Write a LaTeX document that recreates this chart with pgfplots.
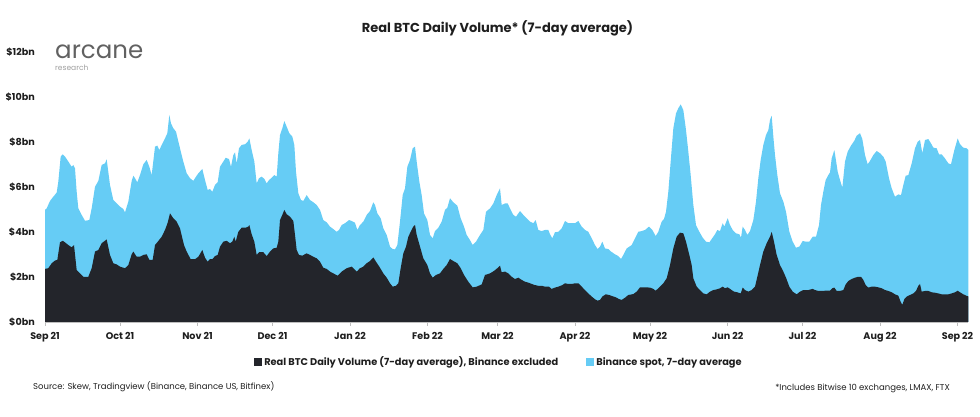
\documentclass[border=0pt]{standalone}
\usepackage{pgfplots}
\pgfplotsset{compat=1.18}
\usepackage{fontspec}
\setmainfont{Poppins}
\definecolor{btcdark}{RGB}{35,37,43}
\definecolor{bnblue}{RGB}{102,204,245}
\definecolor{axisgray}{RGB}{190,190,190}
\definecolor{txt}{RGB}{30,30,30}
\begin{document}
\begin{tikzpicture}[x=1pt,y=1pt]
\path[use as bounding box] (0,0) rectangle (980,417);
\begin{axis}[
  at={(45pt,95pt)}, anchor=south west,
  scale only axis, width=923.33pt, height=270pt,
  xmin=0, xmax=369.33, ymin=0, ymax=12,
  axis lines*=left,
  y axis line style={draw=none},
  x axis line style={axisgray, line width=0.8pt},
  ytick={0,2,4,6,8,10,12},
  yticklabels={\$0bn,\$2bn,\$4bn,\$6bn,\$8bn,\$10bn,\$12bn},
  ytick style={draw=none},
  xtick={0,30,61,91,122,153,181,212,242,273,303,334,365},
  xticklabels={Sep 21,Oct 21,Nov 21,Dec 21,Jan 22,Feb 22,Mar 22,Apr 22,May 22,Jun 22,Jul 22,Aug 22,Sep 22},
  xtick style={axisgray, line width=0.8pt},
  tick align=outside, major tick length=4pt,
  ticklabel style={font=\fontsize{9.6}{11}\selectfont\bfseries, text=txt},
  yticklabel style={anchor=east, inner sep=0pt, xshift=-6pt},
  xticklabel style={anchor=north, inner sep=0pt, yshift=-6.5pt},
  legend style={at={(0.4917,-0.148)}, anchor=center, draw=none, fill=none,
    font=\fontsize{9.8}{11}\selectfont\bfseries, text=txt,
    /tikz/every even column/.append style={column sep=26pt}},
  legend columns=2,
  legend cell align=left,
  legend image code/.code={\fill[#1] (0pt,-4pt) rectangle (8pt,4pt);},
]
\addlegendimage{fill=btcdark, draw=none}
\addlegendentry{Real BTC Daily Volume (7-day average), Binance excluded}
\addlegendimage{fill=bnblue, draw=none}
\addlegendentry{Binance spot, 7-day average}

% top edge of the stack (Binance spot on top of real volume)
\addplot[forget plot, fill=bnblue, draw=none] coordinates {
(0,4.98)(0.67,5.05)(2,5.38)(3.33,5.57)(4.67,5.75)(5.33,6.24)(6.27,7.35)(7.07,7.45)(8,7.35)(9.33,7.13)(10.67,6.90)(11.33,6.98)(12,6.83)(12.67,5.79)(13.33,5.05)(14.67,4.76)(16,4.50)(17.73,4.53)(18.67,5.05)(20,6.01)(21.33,6.27)(22.67,6.98)(24,7.05)(24.67,7.23)(26,6.09)(27.33,5.42)(28.67,5.27)(30,5.13)(31.33,5.02)(32,4.87)(33.33,5.35)(34.67,6.27)(35.33,6.50)(36,6.39)(36.93,6.21)(38,6.53)(39.33,7.01)(40.67,7.20)(41.73,6.90)(42.67,6.53)(44,7.79)(44.93,7.84)(45.73,7.64)(46.67,7.87)(48,8.16)(48.93,8.39)(49.73,9.20)(50.4,8.83)(51.33,8.61)(52.4,8.46)(54,7.72)(55.33,7.13)(56.67,6.61)(58,6.39)(59.33,6.27)
(60,6.39)(61.33,6.61)(62.93,6.80)(64,6.31)(65.07,5.87)(66,5.91)(66.93,5.79)(68,6.09)(69.07,6.21)(70,6.90)(71.33,7.13)(72.27,7.30)(73.6,7.24)(74.4,6.90)(75.33,7.42)(76,7.54)(76.67,7.05)(77.6,7.72)(78.67,7.87)(80,7.90)(81.07,8.01)(81.73,8.16)(82.67,7.64)(83.73,7.13)(84.67,6.16)(85.6,6.39)(86.67,6.46)(87.73,6.36)(88.67,6.16)(89.6,6.31)(90.67,6.41)(91.73,6.53)(92.67,6.46)(93.33,7.50)(94,8.31)(94.93,8.61)(95.73,8.93)(96.67,8.68)(97.73,8.39)(98.93,8.24)(99.73,7.87)(100.4,6.68)(101.33,5.72)(102.4,5.42)(103.33,5.38)(104.67,5.64)(106,5.42)(107.33,5.32)(108.67,5.20)(110,4.98)(111.33,4.53)(112.67,4.43)(114,4.24)(115.33,4.13)(116.67,4.01)(117.6,4.09)(118.67,4.31)(120,4.39)(121.6,4.53)(122.67,4.49)(124,4.41)
(124.93,4.09)(126,4.31)(127.33,4.46)(128.67,4.76)(130,4.93)(131.33,5.32)(132,5.20)(132.93,4.83)(134.27,4.61)(135.33,4.16)(136.67,3.87)(138,3.35)(139.07,3.24)(140,3.23)(140.93,3.42)(142,4.46)(143.07,5.64)(144,5.94)(144.93,6.90)(146,7.20)(147.07,7.72)(148,7.79)(148.67,7.13)(149.73,6.24)(150.67,5.64)(151.6,4.83)(152.93,4.53)(154,3.87)(155.07,3.72)(156,4.04)(157.33,4.19)(158.67,4.46)(160,4.98)(160.93,5.08)(162,5.50)(163.33,5.32)(164.93,5.17)(166.27,4.61)(167.6,4.24)(168.67,3.87)(170,3.64)(171.07,3.42)(172.4,3.57)(174,3.87)(175.33,4.09)(176.4,4.90)(178,5.05)(179.33,5.27)(180.67,5.64)(182,5.94)(182.67,5.20)(184,5.27)
(185.07,5.27)(186,5.05)(187.33,4.76)(188.4,4.68)(190,4.93)(191.33,4.76)(192.67,4.61)(194,4.46)(195.33,4.39)(196.27,4.53)(197.33,4.09)(198.67,4.04)(200,4.09)(201.33,4.09)(202,3.90)(202.93,3.72)(204,3.99)(205.33,4.01)(206.67,4.16)(208,4.49)(209.33,4.39)(210.67,4.39)(212,4.39)(213.33,4.49)(214.67,4.24)(216,4.09)(217.33,4.01)(218.67,3.72)(220,3.42)(221.07,3.24)(222,3.35)(222.93,3.57)(224,3.27)(225.33,3.24)(226.4,3.13)(228,3.01)(229.33,2.93)(230.4,2.80)(231.33,2.98)(232.67,3.27)(234.67,3.42)(236,3.72)(237.33,4.01)(238.67,4.04)(240,4.09)(241.6,4.24)(242.93,4.09)(244.27,3.82)(245.33,4.01)
(246,4.24)(246.67,4.46)(247.6,4.58)(248.4,4.90)(249.33,5.79)(250.27,7.13)(251.33,8.61)(252.4,9.27)(253.33,9.50)(254.27,9.67)(255.33,9.42)(256.4,8.53)(257.33,7.57)(258.27,6.53)(259.33,5.20)(260.4,4.31)(261.73,4.01)(263.07,3.75)(264.4,3.57)(265.73,3.54)(267.07,3.75)(268,3.90)(268.93,4.09)(270,4.04)(271.07,4.39)(271.73,4.24)(273.07,4.61)(274,4.31)(275.07,4.09)(276.4,3.94)(277.73,3.90)(278.4,3.75)(279.07,4.24)(280,4.09)(280.93,3.87)(282,4.04)(283.33,4.53)(284.4,5.35)(285.33,6.39)(286.27,7.20)(287.33,7.87)(288.4,8.31)(289.33,8.53)(290,8.98)(290.67,9.17)(291.33,8.24)(292,7.42)(292.93,6.53)(294,5.72)(295.33,5.35)(296.4,4.90)(297.73,4.01)(299.07,3.57)(300.4,3.30)(301.73,3.35)(303.07,3.60)(304.4,3.57)(305.73,3.57)(307.07,3.79)(308.4,3.79)
(309.6,4.31)(310.4,5.20)(311.33,5.79)(312.27,6.31)(313.33,6.53)(314,6.65)(314.67,7.27)(315.73,7.64)(316.27,7.27)(317.07,6.68)(318,6.31)(318.93,5.97)(320,7.13)(321.07,7.57)(322.4,7.84)(323.73,8.06)(324.67,8.28)(326,8.39)(326.93,8.13)(328,7.42)(329.07,7.01)(330,7.16)(331.33,7.42)(332.67,7.60)(334,7.50)(335.33,7.35)(336.27,7.13)(337.6,6.39)(338.67,5.94)(340,5.57)(341.33,5.67)(342.4,5.64)(343.33,6.09)(344.27,6.50)(345.33,6.53)(346.67,7.05)(348,7.72)(349.07,8.01)(350,8.09)(350.93,7.50)(352,8.09)(353.33,8.13)(354.4,7.94)(355.33,7.75)(356.67,7.72)(357.6,7.45)(358.67,7.45)(360,7.27)(361.33,7.05)(362.4,7.01)(363.73,7.64)(365.07,8.16)(366,7.90)(367.33,7.75)(368.67,7.72)(369.33,7.64)
} \closedcycle;

% real BTC volume, Binance excluded
\addplot[forget plot, fill=btcdark, draw=none] coordinates {
(0,2.36)(1.33,2.39)(2.67,2.61)(4,2.73)(4.93,2.76)(6,3.54)(7.07,3.61)(8,3.54)(9.33,3.42)(10.67,3.32)(11.6,3.42)(12.67,2.31)(14,2.16)(15.33,2.01)(17.33,2.01)(18.67,2.39)(20,3.13)(21.33,3.20)(22.67,3.50)(24.67,3.67)(26,2.98)(27.33,2.61)(28.67,2.56)(30,2.46)(32,2.39)(33.33,2.53)(34.67,3.01)(35.33,3.13)(36.67,2.90)(38,2.90)(39.33,2.98)(40.67,3.01)(41.73,2.76)(43.07,2.76)(44,3.42)(45.33,3.60)(46.67,3.79)(48,4.09)(49.07,4.41)(50,4.83)(51.33,4.61)(52.67,4.46)(54,4.16)(55.6,3.42)(56.67,3.13)(58.27,2.79)
(60,2.79)(61.33,2.90)(62.93,3.20)(64,2.86)(65.07,2.68)(66,2.80)(66.93,2.79)(68,2.93)(69.07,2.98)(70,3.35)(71.33,3.57)(72.67,3.61)(74,3.50)(74.93,3.57)(75.73,3.79)(76.27,3.57)(77.33,4.01)(78.67,4.19)(80.27,4.19)(81.33,4.24)(81.73,4.31)(82.67,3.90)(83.73,3.57)(84.67,2.98)(85.6,3.10)(87.33,3.10)(88.67,2.93)(90,3.13)(91.33,3.27)(92.67,3.30)(93.33,3.57)(94,4.53)(94.93,4.76)(95.73,4.98)(96.67,4.79)(98,4.68)(99.33,4.49)(100,3.87)(100.67,3.20)(101.6,2.98)(102.93,2.95)(104.67,3.05)(106,2.98)(107.33,2.90)(108.67,2.83)(110,2.68)(111.33,2.41)(112.67,2.36)(114,2.24)(115.33,2.16)(117.07,2.06)(118.67,2.24)(120.67,2.39)(122.67,2.46)
(124.67,2.24)(126,2.39)(127.33,2.46)(128.67,2.61)(130,2.71)(131.33,2.87)(132.4,2.68)(133.73,2.46)(135.33,2.16)(136.67,1.97)(138,1.72)(139.07,1.57)(140.4,1.61)(141.33,1.72)(142.27,2.39)(143.33,3.05)(144.4,3.35)(145.33,3.79)(146.27,4.01)(147.33,4.24)(148,4.31)(148.67,3.87)(150,3.35)(151.33,2.83)(152.93,2.53)(154,2.16)(155.07,1.97)(156.4,2.09)(158,2.16)(159.33,2.36)(160.67,2.53)(162,2.80)(163.33,2.71)(164.93,2.61)(166.27,2.39)(167.6,2.09)(169.33,1.79)(171.07,1.54)(172.67,1.57)(174.67,1.67)(176,2.09)(178,2.16)(179.6,2.27)(180.93,2.39)(182,2.50)(182.67,2.21)(184,2.24)
(185.33,2.16)(186.67,2.01)(188,1.91)(189.33,1.97)(190.67,1.87)(192,1.79)(193.33,1.75)(194.67,1.69)(196,1.64)(197.33,1.61)(198.67,1.61)(200,1.57)(201.6,1.57)(202.67,1.47)(204,1.53)(205.33,1.57)(206.93,1.64)(208,1.72)(209.33,1.69)(210.67,1.69)(212,1.72)(213.33,1.72)(214.67,1.57)(216,1.42)(217.33,1.27)(218.67,1.13)(220,1.01)(221.07,0.95)(222,0.98)(222.93,1.13)(224.27,1.23)(225.6,1.20)(226.67,1.16)(228.27,1.10)(229.6,1.02)(230.67,0.98)(232,1.08)(233.33,1.20)(235.33,1.24)(236.67,1.35)(238,1.54)(240,1.54)(242,1.53)(243.33,1.47)(244.27,1.39)(245.33,1.50)
(246,1.57)(247.33,1.72)(248.67,1.94)(250,2.53)(251.33,3.27)(252.67,3.79)(254,3.97)(255.33,3.94)(256.4,3.57)(257.73,2.98)(258.67,2.53)(259.33,1.94)(260.67,1.57)(262,1.42)(263.33,1.27)(264.67,1.23)(266,1.35)(267.33,1.42)(268.67,1.45)(270,1.50)(271.07,1.57)(272,1.50)(273.07,1.54)(274.27,1.45)(275.6,1.35)(276.93,1.32)(278.27,1.27)(279.07,1.53)(280,1.42)(281.33,1.35)(282.67,1.42)(284,1.57)(284.93,2.01)(286,2.53)(287.33,3.13)(288.67,3.50)(290,3.79)(290.67,4.01)(291.6,3.57)(292.67,2.98)(294,2.53)(295.33,2.24)(296.4,1.97)(297.73,1.57)(299.07,1.35)(300.67,1.23)(302,1.35)(303.33,1.42)(305.33,1.42)(307.07,1.47)
(308,1.42)(309.33,1.38)(310.67,1.38)(312,1.39)(314,1.39)(314.93,1.50)(315.73,1.53)(316.67,1.38)(318,1.38)(319.33,1.42)(320.27,1.67)(321.33,1.82)(322.67,1.91)(324,1.97)(325.33,2.01)(326.4,2.01)(327.33,1.87)(328.27,1.64)(329.33,1.53)(330.67,1.57)(332,1.57)(333.33,1.54)(334.67,1.50)(336,1.42)(337.33,1.38)(338.67,1.32)(340,1.23)(341.33,1.17)(342.13,0.93)(342.93,0.76)(343.73,1.02)(344.67,1.13)(346,1.20)(347.33,1.27)(348.4,1.38)(349.33,1.61)(350,1.69)(350.67,1.35)(352,1.38)(353.33,1.38)(354.67,1.32)(356,1.30)(357.33,1.27)(358.67,1.23)(360,1.23)(361.33,1.23)(362.67,1.27)(364,1.32)(365.07,1.39)(366,1.32)(367.33,1.23)(368.67,1.16)(369.33,1.14)
} \closedcycle;
\end{axis}

\node[font=\fontsize{13}{15}\selectfont\bfseries, text=txt] at (497.5,389) {Real BTC Daily Volume* (7-day average)};
\node[anchor=base west, inner sep=0pt, font=\fontsize{24.5}{26}\selectfont, text=black!62] at (55,358) {arcane};
\node[anchor=base west, inner sep=0pt, font=\fontsize{7.5}{8}\selectfont, text=black!38] at (55,346) {research};
\node[anchor=west, inner sep=0pt, font=\fontsize{8.5}{10}\selectfont, text=txt] at (33,30) {Source: Skew, Tradingview (Binance, Binance US, Bitfinex)};
\node[anchor=east, inner sep=0pt, font=\fontsize{8.5}{10}\selectfont, text=txt] at (950,29) {*Includes Bitwise 10 exchanges, LMAX, FTX};
\end{tikzpicture}
\end{document}
